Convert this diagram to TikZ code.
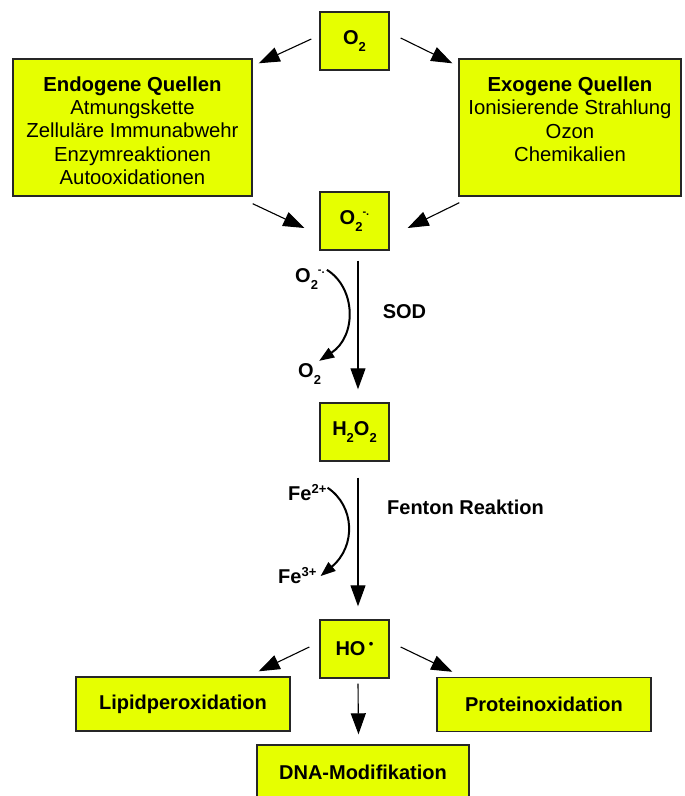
\documentclass[tikz,border=0pt]{standalone}
\usepackage{fontspec}
\setmainfont{Liberation Sans}
\usetikzlibrary{arrows.meta,calc}
\definecolor{boxyellow}{RGB}{230,255,0}
\newcommand{\subtwo}{\raisebox{-7pt}{\fontsize{13}{13}\selectfont 2}}
\newcommand{\radsup}{\raisebox{9pt}{\fontsize{11}{11}\selectfont -.}}
\newcommand{\chsup}[1]{\raisebox{7pt}{\fontsize{13}{13}\selectfont #1}}
\begin{document}
\begin{tikzpicture}[x=1pt,y=-1pt,
box/.style={draw=black!85,fill=boxyellow,line width=1.4pt,inner sep=0pt,align=center,font=\fontsize{20.3}{23.3}\selectfont},
boldbox/.style={box,font=\fontsize{20}{23.5}\selectfont\bfseries},
flow/.style={-{Triangle[length=21pt,width=15pt]},line width=1.1pt},
turn/.style={-{Triangle[length=15pt,width=11pt]},line width=2pt},
lbl/.style={font=\fontsize{20}{24}\selectfont\bfseries,inner sep=0pt}]
\useasboundingbox (0,0) rectangle (685,796);
%boxes
\node[boldbox,minimum width=69pt,minimum height=58pt] (o2) at (354.5,41) {O\subtwo};
\node[box,minimum width=239pt,minimum height=137pt] (endo) at (132.5,127.5) {\rule{0pt}{21pt}\textbf{Endogene Quellen}\\Atmungskette\\Zelluläre Immunabwehr\\Enzymreaktionen\\Autooxidationen};
\node[box,minimum width=222pt,minimum height=137pt] (exo) at (570,127.5) {\rule{0pt}{21pt}\textbf{Exogene Quellen}\\Ionisierende Strahlung\\Ozon\\Chemikalien\\\mbox{}};
\node[boldbox,minimum width=69pt,minimum height=58pt] (o2m) at (354.5,221) {O\subtwo\radsup};
\node[boldbox,minimum width=69pt,minimum height=58pt] (h2o2) at (354.5,432) {H\subtwo O\subtwo};
\node[boldbox,minimum width=69pt,minimum height=58pt] (ho) at (354.5,649) {HO\,\raisebox{7pt}{\fontsize{13}{13}\selectfont\textbullet}};
\node[boldbox,minimum width=214pt,minimum height=54pt] (lipid) at (183,704) {Lipidperoxidation};
\node[boldbox,minimum width=214pt,minimum height=54pt] (prot) at (544,704.5) {Proteinoxidation};
\node[boldbox,minimum width=212pt,minimum height=54pt] (dna) at (363,772) {DNA-Modifikation};
%side labels
\node[lbl,anchor=base west] (sodin) at (295,282) {O\subtwo\radsup};
\node[lbl,anchor=base west] (sodout) at (298,377) {O\subtwo};
\node[lbl] (sod) at (404.5,311.5) {SOD};
\node[lbl,anchor=base west] (fein) at (288,500) {Fe\chsup{2+}};
\node[lbl,anchor=base west] (feout) at (278,583) {Fe\chsup{3+}};
\node[lbl] (fenton) at (465.5,507) {Fenton Reaktion};
%arrows
\draw[flow] ($(o2.west)+(-8,-2)$) -- ($(endo.north east)+(6,5)$);
\draw[flow] ($(o2.east)+(11,-3)$) -- ($(exo.north west)+(-6,5)$);
\draw[flow] ($(endo.south east)+(0,7)$) -- ($(o2m.west)+(-15,7)$);
\draw[flow] ($(exo.south west)+(1,6)$) -- ($(o2m.east)+(18,7)$);
\draw[flow] ($(o2m.south)+(3.5,10)$) -- ($(h2o2.north)+(3.5,-13)$);
\draw[flow] ($(h2o2.south)+(3.5,16)$) -- ($(ho.north)+(3.5,-13)$);
\draw[flow] ($(ho.west)+(-10,-2)$) -- ($(lipid.north east)+(-32,-5)$);
\draw[flow] ($(ho.east)+(11,-2)$) -- ($(prot.north west)+(16,-5)$);
\draw[flow] ($(ho.south)+(3.5,5)$) -- ($(dna.north)+(-4.5,-10)$);
%curved
\draw[turn] ($(sodin.north east)+(2,2)$) .. controls +(29,18) and +(38,-25) .. ($(sodout.north east)+(-2,-2)$);
\draw[turn] ($(fein.north east)+(1,4)$) .. controls +(27,18) and +(36,-30) .. ($(feout.east)+(4,1)$);
\end{tikzpicture}
\end{document}
